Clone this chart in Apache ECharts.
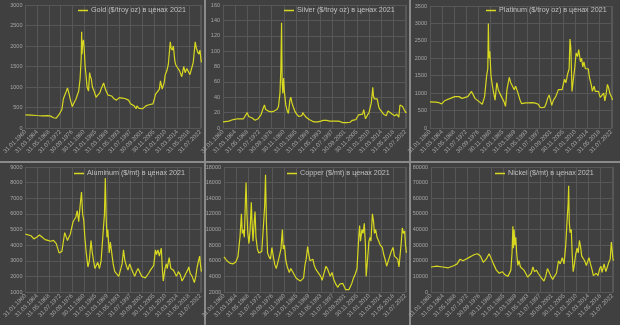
<!DOCTYPE html>
<html>
<head>
<meta charset="utf-8">
<script src="https://cdn.jsdelivr.net/npm/echarts@6/dist/echarts.min.js"></script>
<style>
  html, body { margin: 0; padding: 0; background: #404040; }
  #chart { width: 620px; height: 325px; }
</style>
</head>
<body>
<div id="chart"></div>
<script>
// Monthly prices in 2021 dollars, sampled as [decimal year, value]
const gold = [
  [1960.0, 320], [1962.0, 315], [1964.0, 305], [1966.0, 298], [1968.0, 300], [1969.0, 290],
  [1970.0, 250], [1971.0, 240], [1972.0, 330], [1973.0, 450], [1973.5, 700], [1974.0, 800],
  [1974.5, 880], [1975.0, 980], [1975.5, 850], [1976.0, 700], [1976.7, 520], [1977.5, 640],
  [1978.0, 700], [1978.5, 800], [1979.0, 900], [1979.5, 1200], [1979.9, 1700], [1980.05, 2350],
  [1980.2, 1800], [1980.4, 2050], [1980.7, 2150], [1981.0, 1900], [1981.3, 1500], [1981.6, 1300],
  [1982.0, 1000], [1982.5, 900], [1982.9, 1350], [1983.2, 1250], [1983.5, 1200], [1983.9, 1000],
  [1984.5, 900], [1985.2, 750], [1985.8, 800], [1986.5, 850], [1987.0, 950], [1987.9, 1100],
  [1988.3, 1000], [1988.8, 900], [1989.5, 800], [1990.0, 830], [1990.8, 780], [1991.5, 720],
  [1992.5, 680], [1993.5, 740], [1994.5, 730], [1995.5, 720], [1996.0, 730], [1996.8, 680],
  [1997.5, 590], [1998.0, 560], [1998.8, 540], [1999.5, 470], [1999.8, 540], [2000.5, 480],
  [2001.2, 450], [2001.8, 470], [2002.5, 500], [2003.0, 540], [2003.8, 560], [2004.5, 570],
  [2005.5, 590], [2006.0, 700], [2006.4, 820], [2007.0, 800], [2007.8, 950], [2008.2, 1150],
  [2008.8, 950], [2009.5, 1100], [2009.9, 1300], [2010.5, 1400], [2011.0, 1550], [2011.7, 2100],
  [2012.0, 1950], [2012.4, 1900], [2012.8, 2000], [2013.3, 1650], [2013.6, 1550], [2014.0, 1500],
  [2014.5, 1500], [2015.0, 1400], [2015.8, 1250], [2016.5, 1500], [2017.0, 1350], [2017.6, 1450],
  [2018.2, 1450], [2018.7, 1300], [2019.5, 1500], [2019.9, 1600], [2020.6, 2100], [2021.0, 1950],
  [2021.5, 1850], [2021.9, 1800], [2022.3, 1900], [2022.6, 1700], [2022.8, 1600]
];

const silver = [
  [1960.0, 8], [1962.0, 9], [1963.5, 11], [1965.0, 12], [1967.0, 12], [1968.3, 20], [1968.8, 15],
  [1970.0, 13], [1971.0, 10], [1972.0, 12], [1973.0, 17], [1973.6, 24], [1974.2, 30], [1974.6, 24],
  [1975.5, 22], [1976.5, 21], [1977.5, 22], [1978.5, 24], [1979.0, 28], [1979.5, 45], [1979.8, 75],
  [1980.05, 137], [1980.25, 60], [1980.5, 45], [1980.75, 65], [1981.0, 48], [1981.5, 30], [1982.0, 22],
  [1982.4, 19], [1982.9, 36], [1983.2, 40], [1983.6, 33], [1984.0, 28], [1984.6, 22], [1985.2, 18],
  [1986.0, 15], [1987.0, 16], [1987.3, 20], [1987.8, 17], [1988.5, 14], [1989.5, 11], [1990.5, 9],
  [1991.2, 8], [1992.5, 8], [1993.5, 9], [1994.3, 10], [1995.5, 10], [1996.5, 9], [1997.5, 9],
  [1998.1, 11], [1999.0, 9], [2000.0, 8.5], [2001.0, 7], [2002.5, 7], [2003.5, 7.5], [2004.3, 10],
  [2005.5, 11], [2006.4, 17], [2007.0, 16], [2007.8, 18], [2008.2, 24], [2008.8, 12], [2009.5, 17],
  [2010.0, 20], [2010.8, 33], [2011.3, 53], [2011.5, 42], [2011.8, 38], [2012.2, 40], [2012.8, 38],
  [2013.3, 28], [2013.6, 25], [2014.0, 23], [2015.0, 18], [2015.9, 16], [2016.5, 22], [2017.0, 20],
  [2018.0, 18], [2018.8, 16], [2019.5, 18], [2020.2, 14], [2020.6, 30], [2021.0, 28], [2021.5, 28],
  [2022.0, 24], [2022.6, 20], [2022.8, 21]
];

const platinum = [
  [1960.0, 750], [1962.0, 740], [1963.0, 730], [1964.0, 690], [1965.0, 780], [1967.0, 850],
  [1968.5, 900], [1970.0, 900], [1971.0, 850], [1973.0, 900], [1974.3, 1050], [1975.5, 850],
  [1977.0, 750], [1978.0, 680], [1978.8, 900], [1979.5, 1500], [1979.9, 1700], [1980.1, 3000],
  [1980.3, 2000], [1980.6, 2200], [1981.0, 1500], [1981.5, 1200], [1982.4, 800], [1983.0, 1300],
  [1983.5, 1100], [1984.0, 1000], [1985.5, 750], [1986.0, 620], [1986.5, 1100], [1987.3, 1450],
  [1987.8, 1300], [1988.3, 1350], [1989.0, 1100], [1989.5, 1200], [1990.3, 1000], [1991.0, 800],
  [1991.5, 700], [1992.0, 700], [1993.0, 720], [1994.0, 720], [1995.0, 730], [1996.0, 720],
  [1997.3, 680], [1997.8, 600], [1998.5, 580], [1999.0, 550], [1999.5, 600], [2000.0, 700],
  [2000.5, 850], [2001.0, 950], [2001.5, 800], [2001.9, 650], [2002.5, 800], [2003.3, 900],
  [2004.2, 1100], [2004.7, 1050], [2005.5, 1100], [2006.3, 1400], [2006.8, 1300], [2007.4, 1550],
  [2007.9, 1700], [2008.2, 2550], [2008.5, 2300], [2008.9, 1050], [2009.3, 1350], [2009.8, 1700],
  [2010.3, 2150], [2010.8, 2050], [2011.2, 2250], [2011.8, 1900], [2012.2, 2000], [2012.6, 1750],
  [2013.0, 1900], [2013.5, 1700], [2014.0, 1650], [2014.5, 1700], [2014.9, 1450], [2015.5, 1250],
  [2015.9, 1050], [2016.5, 1200], [2016.9, 1050], [2017.5, 1050], [2018.0, 1050], [2018.6, 880],
  [2019.2, 900], [2019.8, 1000], [2020.2, 780], [2020.6, 950], [2021.1, 1250], [2021.5, 1150],
  [2021.9, 1000], [2022.3, 1000], [2022.7, 850], [2022.8, 800]
];

const aluminum = [
  [1960.0, 4700], [1962.0, 4600], [1963.0, 4400], [1964.0, 4500], [1965.0, 4650], [1966.0, 4500],
  [1967.0, 4350], [1968.0, 4300], [1969.0, 4250], [1970.0, 4300], [1971.0, 4100], [1972.0, 3500],
  [1973.0, 3600], [1973.5, 4200], [1974.0, 4800], [1975.0, 4300], [1975.5, 4500], [1976.0, 4700],
  [1977.0, 5500], [1978.0, 5800], [1978.5, 6200], [1979.0, 5500], [1979.5, 6500], [1980.0, 7400],
  [1980.4, 6000], [1980.8, 5600], [1981.2, 4500], [1981.7, 3500], [1982.3, 2600], [1982.8, 3000],
  [1983.4, 4300], [1983.8, 3600], [1984.3, 3000], [1984.8, 2500], [1985.3, 2400], [1985.8, 2900],
  [1986.4, 2500], [1987.0, 3000], [1987.6, 4500], [1988.2, 6000], [1988.5, 8300], [1988.8, 5800],
  [1989.1, 4500], [1989.4, 5000], [1989.9, 3500], [1990.3, 4200], [1990.8, 3500], [1991.3, 2800],
  [1991.9, 2300], [1992.5, 2200], [1993.3, 2000], [1993.8, 2100], [1994.5, 2800], [1995.0, 3700],
  [1995.5, 3000], [1996.0, 2700], [1996.6, 2400], [1997.2, 2800], [1997.8, 2500], [1998.5, 2200],
  [1999.0, 2000], [1999.6, 2300], [2000.2, 2500], [2000.9, 2400], [2001.5, 2000], [2002.0, 1950],
  [2002.8, 1900], [2003.5, 2000], [2004.0, 2200], [2004.6, 2400], [2005.2, 2500], [2005.8, 2700],
  [2006.4, 3700], [2006.8, 3400], [2007.3, 3700], [2007.8, 3300], [2008.5, 3800], [2008.9, 2400],
  [2009.2, 1700], [2009.8, 2500], [2010.3, 2800], [2010.6, 2500], [2011.3, 3200], [2011.9, 2500],
  [2012.3, 2600], [2012.8, 2400], [2013.4, 2200], [2013.9, 2000], [2014.6, 2300], [2015.3, 2100],
  [2015.9, 1700], [2016.5, 1900], [2017.3, 2200], [2017.9, 2400], [2018.3, 2600], [2018.8, 2200],
  [2019.5, 2000], [2020.3, 1600], [2020.8, 2000], [2021.3, 2600], [2021.8, 3000], [2022.2, 3300],
  [2022.5, 2700], [2022.8, 2300]
];

const copper = [
  [1960.0, 6500], [1961.0, 6000], [1962.0, 5700], [1962.5, 5500], [1963.0, 5600], [1964.0, 5800],
  [1964.8, 6500], [1965.5, 9000], [1966.0, 12000], [1966.3, 9500], [1966.6, 10000], [1967.0, 9000],
  [1967.4, 14000], [1967.6, 16000], [1967.9, 12000], [1968.2, 9500], [1968.6, 8200], [1969.0, 10000],
  [1969.4, 13500], [1969.7, 10500], [1970.0, 8500], [1970.4, 11000], [1970.7, 12300], [1971.0, 9000],
  [1971.5, 7500], [1972.0, 7000], [1972.5, 6800], [1973.0, 7200], [1973.5, 10000], [1974.0, 13000],
  [1974.3, 17000], [1974.6, 11000], [1975.0, 7000], [1975.5, 6500], [1976.0, 6200], [1976.5, 7700],
  [1977.0, 6500], [1977.5, 5500], [1978.0, 5000], [1978.5, 5200], [1979.0, 6500], [1979.6, 7500],
  [1980.1, 10000], [1980.4, 7500], [1980.8, 8000], [1981.3, 6000], [1981.8, 5200], [1982.5, 4500],
  [1983.0, 5000], [1983.5, 4800], [1984.2, 4200], [1984.8, 3800], [1985.5, 3600], [1986.3, 3400],
  [1986.9, 3300], [1987.4, 3800], [1987.9, 5500], [1988.3, 6200], [1988.8, 7800], [1989.2, 6800],
  [1989.6, 6000], [1990.2, 5800], [1990.6, 6200], [1991.0, 5500], [1991.5, 5000], [1992.0, 4700],
  [1992.6, 4500], [1993.3, 4000], [1993.8, 3500], [1994.5, 4500], [1995.1, 5300], [1995.6, 5000],
  [1996.2, 5200], [1996.6, 4000], [1997.2, 4500], [1997.8, 3600], [1998.5, 3000], [1999.2, 2600],
  [1999.8, 3000], [2000.4, 3000], [2000.9, 3100], [2001.5, 2600], [2001.9, 2300], [2002.5, 2400],
  [2003.0, 2300], [2003.5, 2400], [2004.0, 3100], [2004.6, 3800], [2005.2, 4300], [2005.8, 5000],
  [2006.4, 9000], [2006.7, 10500], [2007.0, 8500], [2007.5, 10000], [2007.9, 9500], [2008.3, 10800],
  [2008.7, 8000], [2008.95, 4000], [2009.4, 6000], [2009.9, 8500], [2010.3, 9000], [2010.6, 8500],
  [2011.1, 12000], [2011.5, 11000], [2011.8, 9500], [2012.2, 10000], [2012.7, 9000], [2013.3, 8500],
  [2013.8, 8000], [2014.5, 7700], [2015.0, 6800], [2015.6, 6000], [2016.0, 5300], [2016.5, 5500],
  [2017.0, 6500], [2017.6, 7200], [2018.2, 7700], [2018.7, 6600], [2019.3, 6800], [2019.8, 6200],
  [2020.25, 5200], [2020.7, 7000], [2021.0, 8200], [2021.4, 10200], [2021.8, 9500], [2022.2, 9800],
  [2022.5, 8000], [2022.8, 7000]
];

const nickel = [
  [1960.0, 16000], [1962.0, 16500], [1964.0, 16000], [1966.0, 15500], [1968.0, 17000], [1969.0, 18000],
  [1970.0, 21000], [1971.0, 20000], [1972.0, 21000], [1973.0, 22000], [1974.0, 23000], [1975.0, 24000],
  [1976.0, 24500], [1977.0, 23000], [1978.0, 19000], [1979.0, 21000], [1980.0, 24500], [1980.6, 22000],
  [1981.5, 18000], [1982.5, 14000], [1983.5, 12000], [1984.5, 13000], [1985.5, 11000], [1986.5, 10000],
  [1987.0, 10500], [1987.5, 14000], [1987.9, 25000], [1988.2, 42000], [1988.4, 28000], [1988.6, 40000],
  [1988.9, 30000], [1989.2, 35000], [1989.5, 25000], [1989.9, 17000], [1990.3, 20000], [1990.8, 16000],
  [1991.4, 15000], [1992.0, 14000], [1992.6, 12000], [1993.3, 9500], [1993.8, 9000], [1994.5, 12000],
  [1995.1, 16000], [1995.6, 13000], [1996.3, 14000], [1996.9, 12000], [1997.5, 11000], [1998.2, 8500],
  [1998.9, 7000], [1999.5, 10000], [2000.1, 15000], [2000.6, 13000], [2001.3, 10000], [2001.9, 8000],
  [2002.5, 10000], [2003.2, 12000], [2003.9, 20000], [2004.5, 18000], [2005.2, 22000], [2005.8, 18000],
  [2006.4, 30000], [2006.8, 44000], [2007.2, 56000], [2007.4, 68000], [2007.6, 45000], [2007.9, 38000],
  [2008.3, 40000], [2008.6, 25000], [2008.95, 13000], [2009.4, 18000], [2009.8, 24000], [2010.3, 28000],
  [2010.7, 25000], [2011.1, 33000], [2011.5, 29000], [2011.9, 23000], [2012.4, 22000], [2012.9, 20000],
  [2013.5, 17000], [2014.0, 16000], [2014.4, 22000], [2014.9, 18000], [2015.5, 14000], [2015.9, 10500],
  [2016.4, 10000], [2016.9, 12000], [2017.5, 10500], [2018.1, 15000], [2018.5, 16500], [2018.9, 12500],
  [2019.6, 18000], [2020.2, 13000], [2020.7, 16000], [2021.2, 19000], [2021.7, 21000], [2022.1, 32000],
  [2022.3, 28000], [2022.6, 22000], [2022.8, 20000]
];

// Panel titles and y-axis scales
const titles = [
  'Gold ($/troy oz) в ценах 2021',
  'Silver ($/troy oz) в ценах 2021',
  'Platinum ($/troy oz) в ценах 2021',
  'Aluminum ($/mt) в ценах 2021',
  'Copper ($/mt) в ценах 2021',
  'Nickel ($/mt) в ценах 2021'
];
const yMin = [0, 0, 0, 1000, 2000, 0];
const yMax = [3000, 160, 3500, 9000, 18000, 80000];
const yStep = [500, 20, 500, 1000, 2000, 10000];

// X ticks every 50 months from January 1960
const START_YEAR = 1960;
const TICK_MONTHS = 50;
const X_MAX = 752;

const allSeries = [gold, silver, platinum, aluminum, copper, nickel];

// Layout of the six panels
const grids = [
  { left: 18, top: 5, width: 183, height: 123 },
  { left: 223, top: 5, width: 183, height: 123 },
  { left: 430, top: 6, width: 182, height: 122 },
  { left: 18, top: 167, width: 183, height: 125 },
  { left: 224, top: 167, width: 182, height: 125 },
  { left: 431, top: 167, width: 182, height: 125 }
];
const legendPos = [
  { left: 78, top: 7 }, { left: 284, top: 7 }, { left: 486, top: 7 },
  { left: 74, top: 170 }, { left: 287, top: 170 }, { left: 495, top: 170 }
];

function monthEndLabel(m) {
  if (m % TICK_MONTHS !== 0) return '';
  const y = START_YEAR + Math.floor(m / 12);
  const mo = m % 12;
  const last = new Date(Date.UTC(y, mo + 1, 0)).getUTCDate();
  return String(last).padStart(2, '0') + '.' + String(mo + 1).padStart(2, '0') + '.' + y;
}

const toPoints = arr => arr.map(([yr, v]) => [Math.round((yr - START_YEAR) * 12 * 10) / 10, v]);

const LINE = '#d8d820';
const GRID = '#575757';
const LABEL = '#a6a6a6';
const FONT = 'Liberation Sans, Arial, sans-serif';

const option = {
  backgroundColor: '#404040',
  animation: false,
  grid: grids.map(g => Object.assign({ containLabel: false }, g)),
  xAxis: grids.map((g, i) => ({
    type: 'value', gridIndex: i, min: 0, max: X_MAX, interval: TICK_MONTHS,
    axisLine: { show: true, lineStyle: { color: GRID } },
    axisTick: { show: false },
    splitLine: { show: true, lineStyle: { color: GRID, width: 1 } },
    axisLabel: {
      rotate: 45, fontSize: 6, color: LABEL, margin: 3, fontFamily: FONT,
      showMaxLabel: false, formatter: v => monthEndLabel(v)
    }
  })),
  yAxis: grids.map((g, i) => ({
    type: 'value', gridIndex: i, min: yMin[i], max: yMax[i], interval: yStep[i],
    axisLine: { show: false }, axisTick: { show: false },
    splitLine: { show: true, lineStyle: { color: GRID, width: 1 } },
    axisLabel: { fontSize: 5.5, color: LABEL, margin: 3, fontFamily: FONT, formatter: v => String(v) }
  })),
  legend: titles.map((t, i) => ({
    data: [t], left: legendPos[i].left, top: legendPos[i].top,
    icon: 'rect', itemWidth: 10, itemHeight: 1.5, itemGap: 3,
    textStyle: { color: '#c0c0c0', fontSize: 7.2, fontFamily: FONT, padding: [0, 0, 0, -2] },
    padding: 0, selectedMode: false
  })),
  series: allSeries.map((arr, i) => ({
    name: titles[i], type: 'line', xAxisIndex: i, yAxisIndex: i,
    data: toPoints(arr), showSymbol: false, symbol: 'none',
    lineStyle: { color: LINE, width: 1.2 }, itemStyle: { color: LINE }
  })),
  graphic: [
    { type: 'rect', shape: { x: 0, y: 161, width: 620, height: 2 }, style: { fill: '#8a8a8a' }, silent: true },
    { type: 'rect', shape: { x: 204, y: 0, width: 2, height: 325 }, style: { fill: '#8a8a8a' }, silent: true },
    { type: 'rect', shape: { x: 409, y: 0, width: 2, height: 325 }, style: { fill: '#8a8a8a' }, silent: true }
  ]
};

const chart = echarts.init(document.getElementById('chart'), null, { renderer: 'canvas' });
chart.setOption(option);
</script>
</body>
</html>
